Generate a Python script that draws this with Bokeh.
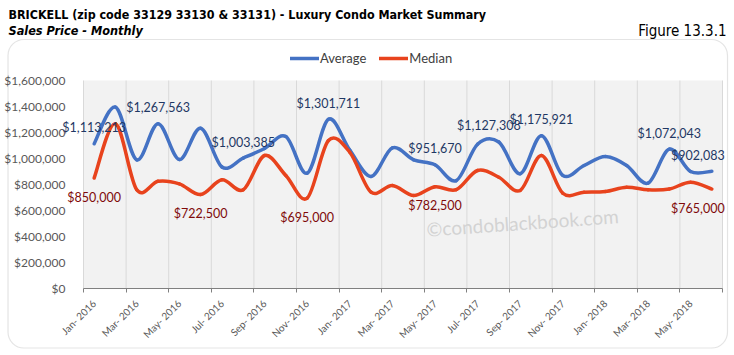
import math
from bokeh.plotting import figure
from bokeh.models import (Range1d, FixedTicker, NumeralTickFormatter, LabelSet, Label,
                          ColumnDataSource, Legend, LegendItem, BoxAnnotation, LinearAxis)
from bokeh.core.properties import value
from bokeh.embed import file_html
from bokeh.resources import INLINE

# ---------------- data ----------------
months = ["Jan-2016", "Feb-2016", "Mar-2016", "Apr-2016", "May-2016", "Jun-2016",
          "Jul-2016", "Aug-2016", "Sep-2016", "Oct-2016", "Nov-2016", "Dec-2016",
          "Jan-2017", "Feb-2017", "Mar-2017", "Apr-2017", "May-2017", "Jun-2017",
          "Jul-2017", "Aug-2017", "Sep-2017", "Oct-2017", "Nov-2017", "Dec-2017",
          "Jan-2018", "Feb-2018", "Mar-2018", "Apr-2018", "May-2018", "Jun-2018"]
average = [1113213, 1395000, 990000, 1267563, 992000, 1233000,
           935000, 1003385, 1077000, 1169000, 887000, 1301711,
           1065000, 862000, 1082000, 990000, 951670, 830000,
           1110000, 1127308, 883000, 1175921, 870000, 946000,
           1015000, 946000, 810000, 1072043, 900000, 902083]
median = [850000, 1267000, 759000, 825000, 805000, 722500,
          836000, 759000, 1023000, 869000, 695000, 1138000,
          1048000, 741000, 792000, 715000, 782500, 760000,
          908000, 856000, 754000, 1023000, 733000, 741000,
          746000, 779000, 759000, 765000, 818000, 765000]
tick_labels = ["Jan- 2016", "Mar- 2016", "May- 2016", "Jul- 2016", "Sep- 2016",
               "Nov- 2016", "Jan- 2017", "Mar- 2017", "May- 2017", "Jul- 2017",
               "Sep- 2017", "Nov- 2017", "Jan- 2018", "Mar- 2018", "May- 2018"]
avg_label_months = ["Jan-2016", "Apr-2016", "Aug-2016", "Dec-2016", "May-2017",
                    "Aug-2017", "Oct-2017", "Apr-2018", "Jun-2018"]
med_label_months = ["Jan-2016", "Jun-2016", "Nov-2016", "May-2017", "Jun-2018"]
y_ticks = [0, 200000, 400000, 600000, 800000, 1000000, 1200000, 1400000, 1600000]

title_text = "BRICKELL (zip code 33129 33130 & 33131) - Luxury Condo Market Summary"
subtitle_text = "Sales Price - Monthly"
figure_text = "Figure 13.3.1"
watermark_text = "\u00a9condoblackbook.com"

# ---------------- styling ----------------
W, H = 734, 355
X0, PW = 83, 639          # plot area left, width (px)
YT, PH = 80, 208          # plot area top, height (px)
N = len(months)
YMAX = y_ticks[-1]
BLUE = "#4472C4"
RED = "#E8431D"
AXIS_FONT = "Lato"
NARROW = "DejaVu Sans Condensed, Liberation Sans, sans-serif"


def dx(px):
    return (px - X0) / PW * N


def dy(py):
    return (YT + PH - py) / PH * YMAX


p = figure(width=W, height=H, x_range=Range1d(dx(0), dx(W)), y_range=Range1d(dy(H), dy(0)),
           output_backend="svg", toolbar_location=None, title=None,
           x_axis_type=None, y_axis_type=None,
           min_border=0, background_fill_color="white", border_fill_color="white",
           outline_line_color=None)
p.xgrid.visible = False
p.ygrid.visible = False

# rounded chart frame and plot area
p.add_layout(BoxAnnotation(left=dx(7.5), right=dx(727), top=dy(39), bottom=dy(347.5),
                           fill_color="white", fill_alpha=1, line_color="#A6A6A6", line_width=1.2,
                           border_radius=16, level="underlay"))
p.add_layout(BoxAnnotation(left=0, right=N, top=YMAX, bottom=0, fill_color="#F2F2F2", fill_alpha=1,
                           line_color=None, level="underlay"))

bounds = list(range(0, N + 1, 2))
centers = [i + 0.5 for i in range(0, N, 2)]

# vertical grid lines at the category boundaries
p.segment(x0=bounds, y0=[0] * len(bounds), x1=bounds, y1=[YMAX] * len(bounds),
          line_color="#D9D9D9", line_width=1)

# x axis: line + tick marks at boundaries
xa = LinearAxis(fixed_location=0, bounds=(0, N), ticker=FixedTicker(ticks=bounds),
                major_label_overrides={b: "" for b in bounds},
                axis_line_color="#808080", major_tick_line_color="#808080",
                major_tick_out=4, major_tick_in=0, minor_tick_line_color=None)
p.add_layout(xa, "below")
# x axis labels at category centres, rotated
xl = LinearAxis(fixed_location=0, bounds=(0, N), ticker=FixedTicker(ticks=centers),
                major_label_overrides={c: t for c, t in zip(centers, tick_labels)},
                major_label_orientation=math.pi / 4, major_label_standoff=7,
                axis_line_color=None, major_tick_line_color=None, minor_tick_line_color=None,
                major_label_text_font=AXIS_FONT, major_label_text_font_size="10px",
                major_label_text_color="#595959")
p.add_layout(xl, "below")
# y axis
ya = LinearAxis(fixed_location=0, bounds=(0, YMAX), ticker=FixedTicker(ticks=y_ticks),
                formatter=NumeralTickFormatter(format="$0,0"),
                axis_line_color=None, major_tick_line_color=None, minor_tick_line_color=None,
                major_label_standoff=12, major_label_text_font=AXIS_FONT,
                major_label_text_font_size="12px", major_label_text_color="#595959")
p.add_layout(ya, "left")


# smooth (Excel-like) curves as cubic beziers built from the data
def bez(vals):
    xs = [i + 0.5 for i in range(len(vals))]
    d = dict(x0=[], y0=[], x1=[], y1=[], cx0=[], cy0=[], cx1=[], cy1=[])
    n = len(vals)
    for i in range(n - 1):
        pm = max(i - 1, 0)
        pp = min(i + 2, n - 1)
        d["x0"].append(xs[i]); d["y0"].append(vals[i])
        d["x1"].append(xs[i + 1]); d["y1"].append(vals[i + 1])
        d["cx0"].append(xs[i] + (xs[i + 1] - xs[pm]) / 6)
        d["cy0"].append(vals[i] + (vals[i + 1] - vals[pm]) / 6)
        d["cx1"].append(xs[i + 1] - (xs[pp] - xs[i]) / 6)
        d["cy1"].append(vals[i + 1] - (vals[pp] - vals[i]) / 6)
    return ColumnDataSource(d)


r_avg = p.bezier(x0="x0", y0="y0", x1="x1", y1="y1", cx0="cx0", cy0="cy0", cx1="cx1", cy1="cy1",
                 source=bez(average), line_color=BLUE, line_width=3.5, line_cap="round")
r_med = p.bezier(x0="x0", y0="y0", x1="x1", y1="y1", cx0="cx0", cy0="cy0", cx1="cx1", cy1="cy1",
                 source=bez(median), line_color=RED, line_width=3.5, line_cap="round")

# data labels
edge_shift = {"Aug-2017": -10, "Jun-2018": -14}


def label_source(sel, vals):
    idx = [months.index(m) for m in sel]
    return ColumnDataSource(dict(
        x=[i + 0.5 for i in idx], y=[vals[i] for i in idx],
        t=["${:,}".format(vals[i]) for i in idx],
        xo=[edge_shift.get(months[i], 0) for i in idx]))


p.add_layout(LabelSet(source=label_source(avg_label_months, average), x="x", y="y", text="t",
                      x_offset="xo", y_offset=16, text_align="center", text_baseline="middle",
                      text_font=value(AXIS_FONT), text_font_size="12.5px", text_color="#1F3864"))
p.add_layout(LabelSet(source=label_source(med_label_months, median), x="x", y="y", text="t",
                      x_offset="xo", y_offset=-19, text_align="center", text_baseline="middle",
                      text_font=value(AXIS_FONT), text_font_size="12.5px", text_color="#7F0A0A"))

# watermark
p.add_layout(Label(x=dx(522), y=dy(222), text=watermark_text, angle=math.radians(4),
                   text_align="center", text_baseline="middle", text_font=AXIS_FONT,
                   text_font_size="19px", text_color="#D3D3D3"))

# titles
p.add_layout(Label(x=dx(8), y=dy(14), text=title_text, text_align="left", text_baseline="middle",
                   text_font=NARROW, text_font_style="bold", text_font_size="12.4px",
                   text_color="#000000"))
p.add_layout(Label(x=dx(8), y=dy(30), text=subtitle_text, text_align="left", text_baseline="middle",
                   text_font=NARROW, text_font_style="bold italic", text_font_size="12.6px",
                   text_color="#000000"))
p.add_layout(Label(x=dx(726), y=dy(30), text=figure_text, text_align="right", text_baseline="middle",
                   text_font=NARROW, text_font_size="15px", text_color="#000000"))

# legend
legend = Legend(items=[LegendItem(label="Average", renderers=[r_avg]),
                       LegendItem(label="Median", renderers=[r_med])],
                location=(290, H - 50 - 16), orientation="horizontal",
                glyph_width=29, glyph_height=16, label_standoff=1, spacing=13,
                padding=0, margin=0, border_line_alpha=0, background_fill_alpha=0,
                label_text_font=AXIS_FONT, label_text_font_size="13px",
                label_text_color="#404040", label_height=16)
p.add_layout(legend, "center")

open("out.html", "w").write(file_html(p, INLINE))
